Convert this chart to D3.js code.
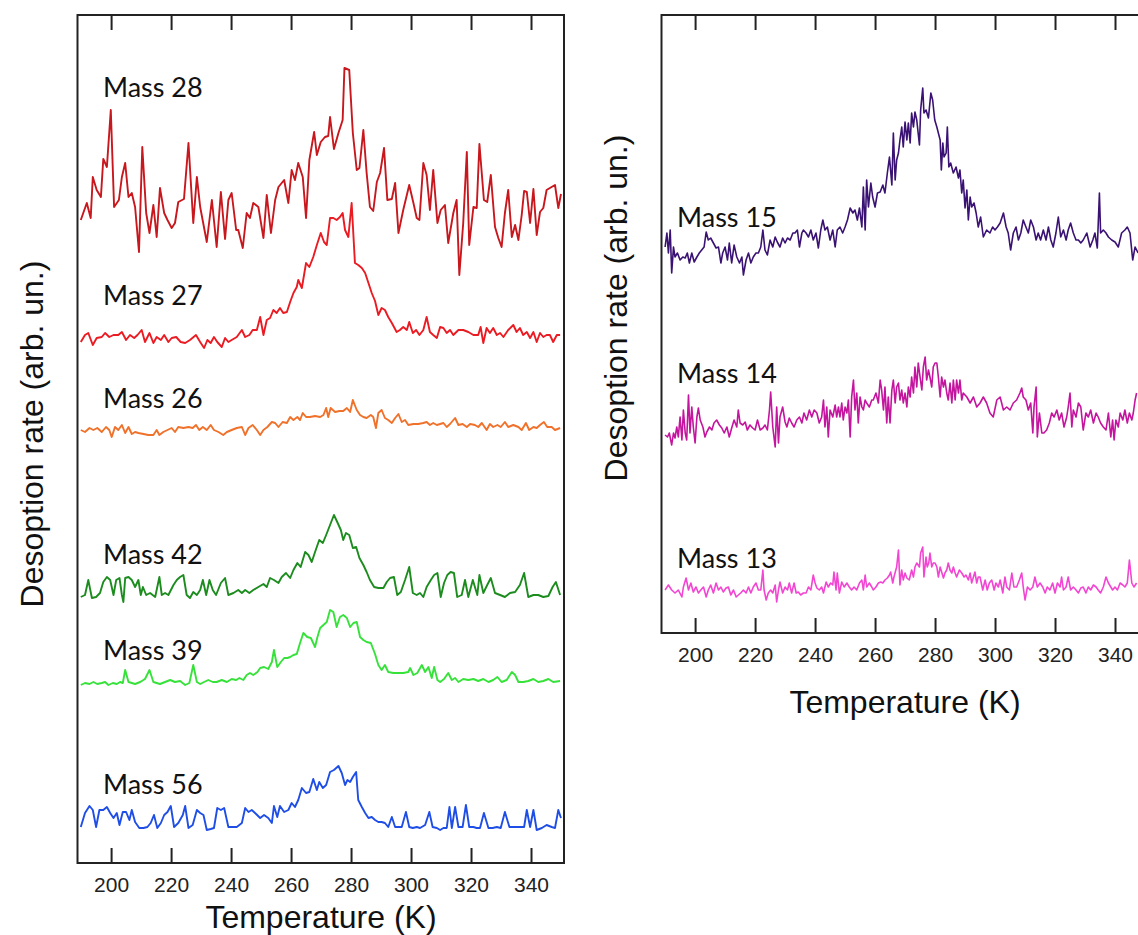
<!DOCTYPE html>
<html><head><meta charset="utf-8">
<script src="https://cdn.jsdelivr.net/npm/d3@7"></script>
<style>body{margin:0;background:#fff}svg{display:block}</style></head>
<body><svg id="chart" width="1138" height="935"></svg>
<script>
// ---------- data (temperature in K, desorption rate in arb. units incl. vertical offset) ----------
const tempTicks = [200, 220, 240, 260, 280, 300, 320, 340];
const tempDomain = [188.8, 351];
const leftRateDomain = [0, 84.8];
const rightRateDomain = [0, 61.8];

const leftNames = ["Mass 28", "Mass 27", "Mass 26", "Mass 42", "Mass 39", "Mass 56"];
const rightNames = ["Mass 15", "Mass 14", "Mass 13"];

const mass28 = [[189.9,64.3],[191.9,66.0],[193.2,64.5],[193.9,68.6],[195.2,67.3],[196.6,66.6],[197.4,70.4],[198.6,69.6],[199.9,75.3],[201.0,65.6],[202.6,66.3],[203.6,68.6],[204.7,70.0],[205.8,66.6],[206.9,67.0],[208.0,65.6],[209.3,61.1],[210.4,71.6],[211.7,65.0],[212.8,63.0],[214.1,65.8],[215.2,62.6],[216.3,67.5],[217.7,65.0],[218.8,64.3],[220.2,63.5],[221.3,64.0],[222.4,66.1],[224.3,66.4],[225.8,72.0],[227.4,64.0],[228.6,68.6],[229.7,65.6],[231.9,62.1],[233.6,66.3],[235.2,61.6],[236.6,67.1],[238.0,62.4],[239.1,66.3],[240.2,67.0],[241.7,63.3],[242.4,63.3],[243.9,61.5],[245.2,65.0],[246.3,64.5],[247.4,66.0],[249.1,65.6],[250.8,62.5],[251.9,66.8],[253.3,63.0],[254.7,66.3],[255.8,67.6],[257.7,68.3],[259.1,66.0],[260.2,69.3],[261.3,68.3],[262.4,70.0],[263.9,68.6],[265.0,64.5],[266.1,70.3],[267.7,73.1],[268.6,70.8],[269.9,72.1],[271.3,72.6],[272.4,72.7],[273.0,74.6],[274.3,71.4],[275.8,73.0],[277.2,74.3],[277.8,79.5],[279.4,79.3],[280.6,73.0],[281.9,69.3],[282.8,69.5],[284.1,73.3],[285.2,69.0],[286.3,65.6],[287.4,65.2],[288.6,68.1],[289.7,69.0],[291.0,71.5],[292.1,66.3],[293.6,66.4],[294.7,68.0],[295.8,63.0],[297.4,65.3],[299.4,67.8],[300.8,66.0],[301.9,64.5],[302.8,64.3],[304.1,70.0],[305.2,68.8],[306.3,65.3],[307.4,69.3],[308.8,64.0],[309.9,65.3],[311.3,65.8],[312.4,62.0],[314.1,65.0],[315.2,66.3],[316.1,58.8],[317.4,64.0],[318.6,71.1],[319.4,61.8],[320.8,65.6],[321.9,65.5],[322.8,71.9],[324.3,66.3],[325.4,66.1],[326.6,68.8],[328.0,63.6],[329.1,62.5],[330.2,61.6],[331.3,65.0],[332.4,67.3],[333.6,62.6],[334.7,63.8],[335.8,62.3],[336.9,64.8],[337.7,67.2],[338.6,67.1],[339.7,64.0],[340.8,67.4],[341.9,62.8],[343.0,65.1],[344.1,65.5],[345.2,67.3],[346.3,67.5],[348.0,67.8],[349.1,65.5],[350.0,66.9]];

const mass27 = [[189.9,52.1],[191.3,52.8],[192.4,53.0],[193.9,51.8],[195.2,52.5],[196.9,52.6],[198.0,53.0],[199.4,52.6],[200.8,52.8],[202.4,52.8],[203.6,53.1],[205.0,52.3],[206.3,52.8],[207.7,52.5],[208.8,52.8],[210.2,53.3],[211.3,52.1],[212.8,53.0],[214.1,52.0],[215.2,52.6],[216.6,52.3],[217.7,52.8],[219.1,52.1],[220.2,52.5],[221.7,52.6],[223.2,52.1],[224.7,52.0],[226.3,52.3],[228.3,52.8],[229.7,52.1],[231.0,51.5],[232.1,52.3],[233.2,52.0],[234.3,52.6],[235.4,52.1],[236.9,51.6],[238.0,52.5],[239.1,52.1],[240.2,52.3],[241.9,52.6],[243.6,53.3],[244.7,52.6],[246.1,52.8],[247.2,53.3],[248.6,53.3],[249.7,54.6],[250.8,52.8],[251.9,54.3],[253.0,54.5],[254.1,55.3],[255.2,55.0],[256.3,55.5],[257.4,55.0],[258.6,55.1],[259.7,56.1],[260.8,57.0],[261.9,57.6],[262.4,58.3],[263.6,57.5],[265.0,60.0],[266.1,59.6],[267.4,60.6],[268.6,61.8],[269.9,63.0],[271.0,62.1],[271.9,61.8],[273.0,64.5],[274.1,64.5],[275.2,64.3],[276.3,64.6],[277.2,65.0],[278.0,63.3],[279.1,62.6],[280.2,66.0],[281.3,60.0],[282.4,59.8],[283.6,59.5],[284.7,59.0],[285.8,58.0],[286.9,57.0],[288.0,56.2],[289.1,54.8],[290.2,55.5],[291.3,55.3],[292.4,54.6],[293.6,54.0],[295.2,53.1],[296.3,53.3],[297.4,53.6],[298.6,53.3],[299.4,54.1],[300.6,53.0],[301.7,53.3],[302.8,52.8],[304.1,53.3],[305.2,54.6],[306.3,53.1],[307.4,52.8],[308.6,52.5],[309.7,53.6],[310.8,53.5],[311.9,53.0],[313.0,53.3],[314.1,52.8],[315.8,53.3],[317.4,53.3],[319.1,53.1],[320.8,52.8],[322.4,52.8],[323.2,53.6],[324.1,52.0],[325.2,53.5],[326.3,53.0],[327.4,53.5],[328.6,52.8],[329.7,53.0],[330.8,52.6],[332.4,53.3],[334.1,53.8],[335.2,53.1],[336.3,53.5],[337.4,52.8],[338.6,53.1],[339.7,52.5],[340.8,53.1],[341.9,52.1],[343.0,53.0],[344.1,52.6],[345.2,52.8],[346.3,52.8],[347.4,52.1],[348.6,52.8],[349.7,52.8]];

const mass26 = [[189.9,43.3],[191.3,43.1],[192.8,43.5],[194.1,43.3],[195.4,43.5],[196.9,43.1],[198.3,43.6],[199.4,43.3],[200.2,42.6],[201.3,43.6],[202.4,43.3],[203.6,43.8],[204.7,43.0],[205.8,43.6],[206.9,42.9],[208.0,43.1],[209.1,43.0],[210.8,42.9],[212.4,42.8],[214.1,42.8],[215.2,43.3],[216.1,42.8],[217.4,43.1],[218.8,43.3],[220.2,43.5],[221.3,43.1],[222.4,43.6],[224.1,43.5],[225.8,43.6],[227.2,43.5],[228.3,43.8],[229.4,43.3],[230.6,43.6],[231.9,43.3],[233.2,43.8],[234.3,43.3],[235.8,43.1],[237.4,42.8],[238.6,43.1],[240.2,43.3],[241.9,43.5],[243.6,43.6],[244.7,42.8],[245.8,43.5],[247.2,43.8],[248.6,43.3],[249.7,42.8],[250.8,43.3],[252.1,43.6],[253.6,44.1],[254.7,44.0],[255.8,43.6],[257.2,44.1],[258.6,44.0],[259.7,44.6],[260.8,44.3],[262.1,44.6],[263.0,44.3],[263.9,45.0],[265.0,44.6],[266.3,44.6],[268.0,44.7],[269.7,44.6],[270.8,44.8],[271.7,45.5],[272.4,44.6],[273.2,45.5],[274.7,45.1],[276.1,45.2],[277.4,45.2],[278.6,45.5],[279.7,45.1],[280.6,46.3],[281.9,45.3],[283.0,44.8],[284.1,44.6],[285.2,44.5],[286.6,44.8],[287.4,44.6],[288.3,43.5],[289.1,45.0],[290.2,45.3],[291.3,44.5],[292.4,44.3],[293.6,44.0],[294.7,44.5],[295.8,44.9],[296.9,44.1],[298.0,44.3],[299.1,43.8],[300.8,43.9],[302.4,43.9],[304.1,44.0],[305.2,44.1],[306.3,43.8],[307.4,44.0],[308.6,43.8],[309.7,43.9],[310.8,44.0],[311.9,43.6],[313.0,43.9],[314.7,44.5],[315.8,43.8],[317.2,43.9],[318.6,43.6],[319.7,43.9],[321.3,43.8],[322.4,43.6],[323.6,44.0],[325.2,43.3],[326.3,43.9],[327.4,43.6],[328.8,43.8],[329.9,43.6],[331.3,44.1],[332.4,43.6],[334.1,43.8],[335.8,43.6],[336.9,43.3],[338.3,44.0],[339.4,43.3],[340.8,43.6],[341.9,43.5],[343.0,43.8],[344.3,44.1],[345.4,43.6],[346.9,43.6],[348.0,43.3],[349.7,43.5]];

const mass42 = [[189.9,26.6],[191.3,26.8],[192.4,28.3],[193.6,26.5],[195.0,26.6],[196.3,27.0],[197.4,28.1],[198.6,28.6],[199.7,28.3],[200.8,26.8],[201.7,28.3],[202.8,28.5],[203.6,26.8],[204.1,26.1],[204.7,28.5],[205.8,28.6],[206.9,28.3],[208.0,27.6],[209.1,28.3],[209.9,26.8],[210.6,27.6],[211.7,26.8],[213.0,27.0],[214.7,26.6],[216.1,28.6],[216.9,26.8],[218.0,27.0],[219.1,26.8],[220.8,27.8],[221.9,28.3],[223.0,28.6],[224.1,28.8],[225.2,26.8],[226.3,26.5],[227.4,27.1],[228.6,26.8],[229.7,27.3],[230.6,28.3],[231.7,26.8],[232.8,28.3],[233.9,27.3],[235.0,26.8],[236.6,28.0],[238.0,28.5],[239.1,26.8],[240.8,27.0],[242.4,27.3],[243.6,27.0],[244.7,27.3],[246.1,27.0],[247.4,27.3],[249.1,27.6],[250.8,27.9],[251.9,27.6],[253.0,28.5],[254.3,28.3],[255.8,28.0],[256.9,28.6],[258.3,29.0],[259.7,28.5],[260.8,29.3],[262.1,30.0],[263.2,29.6],[264.7,31.1],[265.8,30.8],[266.9,30.1],[268.0,31.1],[269.4,32.3],[270.6,32.0],[271.7,32.8],[273.0,33.8],[274.3,34.8],[275.4,34.1],[276.6,33.3],[277.4,32.3],[278.3,33.0],[279.4,32.8],[280.6,31.5],[281.7,31.6],[282.8,30.5],[284.1,29.8],[285.2,29.1],[286.3,28.3],[287.7,27.6],[289.1,27.5],[290.8,27.5],[291.9,28.1],[293.0,28.5],[294.3,28.6],[295.4,26.8],[296.6,27.1],[298.0,28.3],[299.4,29.6],[300.6,27.0],[301.9,26.8],[303.0,27.0],[304.1,26.6],[305.2,27.6],[306.6,28.3],[307.7,28.8],[308.8,29.0],[309.9,26.6],[311.0,28.0],[312.1,28.8],[313.2,29.1],[314.3,29.0],[315.4,26.6],[316.9,26.8],[318.0,28.3],[319.1,26.6],[320.6,28.3],[322.1,26.8],[322.8,28.8],[324.1,27.0],[325.4,27.8],[326.6,28.5],[328.0,27.0],[329.7,26.8],[331.3,26.6],[333.0,27.0],[334.7,27.1],[336.3,27.8],[337.7,29.0],[339.1,26.6],[340.8,26.8],[342.4,26.8],[344.1,26.6],[345.8,26.7],[347.2,27.6],[348.3,28.1],[349.7,26.8]];

const mass39 = [[189.9,17.8],[191.3,18.0],[192.8,17.9],[194.1,18.1],[195.4,17.9],[196.9,18.0],[198.0,18.1],[199.1,17.8],[200.6,18.0],[201.9,17.9],[203.0,18.1],[203.9,18.0],[204.7,19.3],[205.8,18.1],[206.9,18.0],[208.0,17.9],[209.7,18.1],[211.3,18.4],[212.8,19.3],[214.1,18.1],[215.2,18.0],[216.3,17.9],[218.0,18.1],[219.7,18.3],[221.3,18.1],[223.0,18.2],[224.7,17.8],[226.1,18.0],[227.4,19.8],[228.6,18.1],[229.7,17.9],[231.0,18.1],[232.4,18.3],[233.9,18.1],[235.2,18.1],[236.9,18.3],[238.6,18.1],[240.2,18.4],[241.7,18.3],[242.8,18.5],[244.1,18.3],[245.2,18.8],[246.3,19.0],[247.4,18.8],[248.8,19.1],[249.7,19.5],[251.0,19.6],[252.4,19.4],[253.6,20.1],[254.3,21.3],[255.4,19.6],[256.6,20.1],[257.7,20.5],[258.8,20.5],[259.7,20.6],[260.8,20.8],[261.9,20.9],[263.0,22.0],[264.1,23.0],[265.4,22.6],[266.6,22.5],[268.0,21.6],[268.8,22.6],[269.7,23.5],[270.8,23.8],[271.9,24.1],[273.0,25.3],[274.1,25.1],[275.2,23.6],[276.3,24.6],[277.4,24.8],[278.6,24.5],[279.7,23.6],[280.8,24.0],[281.9,24.1],[283.0,22.6],[284.1,22.3],[285.2,22.1],[286.6,22.0],[288.0,20.9],[289.1,19.8],[290.2,19.3],[291.3,19.8],[292.4,19.1],[294.1,19.0],[295.8,19.0],[297.4,19.0],[299.1,19.1],[299.7,19.5],[300.8,18.8],[302.1,19.0],[303.6,19.8],[304.7,19.1],[305.8,19.6],[306.9,18.5],[307.7,19.6],[308.8,18.3],[309.7,18.1],[311.0,18.4],[312.4,19.0],[313.6,18.3],[314.7,18.5],[315.8,18.1],[317.4,18.4],[319.1,18.3],[320.8,18.4],[322.4,18.2],[324.1,18.4],[325.8,18.1],[327.4,18.3],[328.8,18.6],[330.2,18.1],[331.9,18.3],[333.6,19.1],[334.7,18.8],[335.8,18.1],[337.4,18.1],[339.1,18.2],[340.8,18.4],[342.4,18.1],[344.1,18.2],[345.8,18.4],[347.4,18.1],[349.7,18.2]];

const mass56 = [[189.9,3.6],[191.3,5.0],[192.8,5.7],[193.9,5.3],[195.0,3.6],[196.1,5.3],[197.4,5.3],[198.6,5.6],[199.7,5.0],[200.8,4.5],[201.9,5.0],[202.8,3.8],[203.9,5.1],[205.0,5.1],[206.1,4.3],[206.9,5.3],[208.0,4.1],[209.4,3.5],[210.8,3.5],[212.1,3.6],[213.2,4.0],[214.3,4.8],[215.4,3.5],[216.6,4.0],[217.7,4.8],[218.8,5.1],[219.9,5.7],[221.0,3.6],[222.4,4.0],[223.9,4.8],[224.7,5.7],[225.8,3.5],[227.2,3.8],[228.6,5.3],[229.7,5.0],[230.8,4.8],[231.9,3.3],[233.2,3.4],[234.3,3.5],[235.4,5.5],[236.6,5.3],[237.7,5.5],[239.1,3.6],[240.6,3.6],[241.9,3.6],[243.6,4.0],[244.7,5.5],[245.8,5.1],[246.9,5.3],[248.0,5.0],[249.7,4.5],[251.0,4.8],[252.4,4.5],[253.6,4.0],[254.3,5.7],[255.4,4.6],[256.3,5.7],[257.7,5.1],[259.1,5.3],[260.2,6.0],[261.3,5.6],[262.4,6.3],[263.6,7.5],[265.0,7.0],[266.1,7.1],[267.4,8.4],[268.6,7.3],[269.4,8.1],[270.6,7.5],[271.7,7.8],[273.0,9.1],[274.3,9.3],[275.8,9.7],[276.9,9.0],[278.0,7.8],[278.8,8.3],[279.7,8.1],[280.6,8.6],[281.7,9.1],[282.4,6.3],[283.6,5.6],[284.7,5.0],[285.8,4.5],[286.9,4.6],[288.0,4.3],[289.1,4.1],[290.2,4.1],[291.3,4.0],[292.4,3.6],[293.6,4.6],[294.7,3.6],[295.8,3.6],[296.9,3.6],[298.3,5.1],[299.4,3.6],[300.6,3.5],[301.9,3.6],[303.0,3.5],[304.7,3.8],[306.1,5.1],[307.2,3.6],[308.6,3.5],[309.7,3.3],[310.8,3.5],[311.9,3.5],[312.8,5.6],[313.6,3.5],[314.7,5.6],[315.8,3.6],[317.2,3.6],[318.3,5.8],[319.4,3.6],[320.8,3.6],[321.9,3.5],[323.0,3.5],[324.3,5.0],[325.8,3.5],[327.2,3.5],[328.6,3.6],[329.9,3.5],[331.3,5.1],[332.8,3.6],[334.7,3.6],[336.3,3.6],[337.7,3.6],[338.6,5.3],[339.7,3.6],[340.8,5.3],[341.9,3.3],[343.6,3.5],[345.2,3.8],[346.9,3.6],[348.0,3.5],[349.1,5.3],[350.0,4.5]];

const mass15 = [[190.0,38.6],[190.6,40.0],[191.1,38.0],[191.7,40.3],[192.2,36.0],[192.8,38.6],[193.3,37.6],[194.1,38.0],[195.0,37.3],[195.9,37.6],[196.7,37.5],[197.4,38.0],[198.1,37.0],[198.9,38.0],[199.7,37.1],[200.6,37.6],[201.4,38.0],[202.2,38.3],[203.0,38.6],[203.7,40.1],[204.4,39.3],[205.2,39.5],[206.1,39.0],[207.0,38.5],[207.8,38.6],[208.6,37.0],[209.2,38.0],[210.0,38.6],[210.8,37.3],[211.4,39.0],[212.2,37.0],[213.0,38.8],[213.9,37.6],[214.8,37.0],[215.6,37.6],[216.1,35.8],[217.0,37.3],[217.8,38.0],[218.6,37.0],[219.4,37.6],[220.3,38.0],[221.1,38.0],[221.9,38.6],[222.6,40.3],[223.3,38.3],[224.1,37.8],[225.0,39.3],[225.9,38.6],[226.7,39.6],[227.4,39.1],[228.3,38.6],[229.2,39.5],[230.0,39.0],[230.8,39.5],[231.7,39.3],[232.6,40.0],[233.3,40.0],[234.1,40.3],[234.8,38.6],[235.6,40.0],[236.1,40.3],[237.0,40.0],[237.8,39.6],[238.6,40.3],[239.4,39.3],[240.3,40.0],[241.1,38.5],[241.9,40.3],[242.6,41.3],[243.3,40.3],[244.1,40.6],[245.0,39.3],[245.9,40.3],[246.7,38.6],[247.4,40.3],[248.3,40.6],[249.2,40.0],[250.0,40.6],[250.8,41.3],[251.7,42.5],[252.6,42.0],[253.3,42.3],[254.1,41.3],[254.8,42.5],[255.6,40.6],[256.1,44.6],[256.7,40.3],[257.2,45.3],[257.8,42.6],[258.6,45.0],[259.2,43.6],[260.0,42.6],[260.8,44.0],[261.7,44.1],[262.6,44.8],[263.3,44.0],[264.1,46.0],[264.8,47.6],[265.6,44.8],[266.1,50.0],[266.7,45.3],[267.2,47.3],[267.8,48.0],[268.3,49.3],[268.9,50.6],[269.4,48.6],[270.0,51.1],[270.6,49.3],[271.1,51.0],[271.7,49.0],[272.2,52.0],[272.8,50.6],[273.3,52.1],[273.9,51.3],[274.8,48.8],[275.2,52.3],[275.9,54.5],[276.3,52.0],[277.0,52.3],[277.8,51.5],[278.6,54.0],[279.2,53.3],[279.9,51.3],[280.6,50.6],[281.1,50.0],[281.7,49.3],[282.1,46.3],[282.6,49.0],[283.0,47.6],[283.7,48.0],[284.1,50.6],[284.6,46.6],[285.2,47.0],[286.1,46.0],[287.0,46.6],[287.8,45.5],[288.3,46.3],[288.9,44.0],[289.4,45.3],[290.0,42.5],[290.6,44.3],[291.1,41.3],[291.7,43.6],[292.2,42.6],[293.0,43.0],[293.7,42.0],[294.4,40.6],[295.2,41.6],[296.1,39.6],[297.2,40.3],[298.3,40.0],[299.2,40.6],[300.0,40.3],[300.8,40.6],[301.7,41.0],[302.8,42.0],[303.7,40.6],[304.4,40.0],[305.2,38.3],[306.1,40.0],[307.0,40.6],[307.8,39.3],[308.6,40.0],[309.4,41.3],[310.3,40.6],[311.1,40.0],[311.9,41.3],[312.8,40.6],[313.7,39.3],[314.4,40.0],[315.2,39.3],[316.1,40.3],[317.0,39.3],[317.8,40.6],[318.6,39.3],[319.4,38.6],[320.3,40.0],[321.1,41.6],[321.9,39.6],[322.8,40.3],[323.7,39.3],[324.4,40.3],[325.2,41.0],[326.1,40.0],[327.0,39.3],[327.8,39.3],[328.6,39.0],[329.4,39.3],[330.6,40.0],[331.7,38.6],[332.6,39.3],[333.3,40.0],[334.1,38.5],[334.8,44.0],[335.2,40.0],[336.1,40.3],[337.0,40.0],[337.8,39.6],[338.9,39.3],[340.0,39.1],[341.1,38.6],[342.2,40.0],[343.3,40.3],[344.1,40.6],[345.0,40.0],[345.9,37.3],[346.7,38.6],[347.7,38.0]];

const mass14 = [[190.0,19.8],[190.8,19.6],[191.4,20.0],[192.2,18.8],[192.8,20.0],[193.3,19.5],[193.9,20.6],[194.4,19.6],[195.0,21.6],[195.6,19.3],[196.1,22.3],[196.7,20.0],[197.2,19.3],[197.8,23.8],[198.3,20.0],[198.9,22.6],[199.4,20.6],[200.0,19.0],[200.6,21.6],[201.1,22.5],[201.7,21.3],[202.6,20.6],[203.3,19.6],[203.9,20.1],[204.8,20.6],[205.6,20.3],[206.3,21.0],[207.2,21.3],[208.1,20.8],[208.9,20.5],[209.7,20.0],[210.6,20.6],[211.4,19.6],[212.2,20.5],[213.0,21.3],[213.9,20.6],[214.4,22.3],[215.0,21.0],[215.9,20.8],[216.7,21.1],[217.4,20.3],[218.3,20.8],[219.2,20.5],[220.0,20.3],[220.8,21.3],[221.7,20.3],[222.6,20.5],[223.3,20.8],[224.1,20.3],[224.8,22.3],[225.2,24.1],[225.9,20.6],[226.7,18.6],[227.2,22.6],[227.8,19.0],[228.3,21.6],[229.2,22.6],[230.0,21.1],[230.6,20.6],[231.4,21.5],[232.2,21.0],[233.0,20.6],[233.9,21.3],[234.8,21.6],[235.6,21.0],[236.3,22.0],[237.2,21.3],[238.1,22.3],[238.9,21.6],[239.7,22.3],[240.6,22.0],[241.4,21.0],[242.2,21.6],[242.8,23.3],[243.3,20.6],[243.9,22.6],[244.4,19.6],[245.0,22.3],[245.9,21.6],[246.7,22.8],[247.2,21.6],[247.8,22.6],[248.3,21.6],[248.9,23.0],[249.4,21.3],[250.0,22.6],[250.6,22.0],[251.1,23.3],[251.7,19.6],[252.2,23.6],[252.8,25.3],[253.3,22.3],[253.9,24.0],[254.4,21.0],[255.0,23.6],[255.6,22.6],[256.1,22.3],[256.7,23.3],[257.2,23.0],[258.1,22.6],[258.9,23.3],[259.4,23.3],[260.3,24.0],[261.1,23.0],[261.7,25.3],[262.2,24.3],[262.8,22.3],[263.3,24.6],[263.9,21.0],[264.4,23.6],[265.0,21.0],[265.6,24.3],[266.1,25.3],[266.7,23.0],[267.2,24.6],[267.8,25.0],[268.3,23.3],[268.9,24.3],[269.4,23.0],[270.0,24.0],[270.6,22.6],[271.1,24.6],[271.7,23.6],[272.2,25.6],[272.8,24.0],[273.3,26.6],[273.9,24.6],[274.4,27.0],[275.0,25.6],[275.6,24.3],[276.1,26.6],[276.7,27.6],[277.2,25.3],[277.8,26.3],[278.3,25.6],[278.9,24.6],[279.4,26.6],[280.0,27.0],[280.6,27.0],[281.1,25.6],[281.7,23.6],[282.2,25.6],[282.8,24.6],[283.3,25.3],[283.9,24.0],[284.4,23.3],[285.0,25.0],[285.6,23.0],[286.1,25.3],[286.7,23.3],[287.2,25.3],[287.8,24.0],[288.3,25.3],[288.9,23.3],[289.4,24.0],[290.6,23.6],[291.7,23.0],[292.8,23.6],[293.9,22.6],[295.0,23.0],[296.1,23.6],[297.2,23.0],[298.3,22.0],[299.4,21.6],[300.6,23.3],[301.7,23.6],[302.8,22.3],[303.9,22.6],[305.0,22.3],[306.1,23.0],[307.2,23.3],[308.3,24.0],[308.9,24.5],[309.4,23.6],[310.3,23.3],[311.1,22.3],[311.9,23.0],[312.6,20.0],[313.0,22.6],[313.7,24.6],[314.1,19.6],[314.8,22.0],[315.6,20.0],[316.3,20.0],[317.2,20.3],[318.1,21.0],[318.9,22.0],[319.7,21.6],[320.6,22.3],[321.4,21.3],[322.2,22.0],[323.0,20.6],[323.9,21.6],[324.4,22.6],[325.0,24.0],[325.6,20.6],[326.1,22.3],[327.0,21.6],[327.8,23.0],[328.6,22.6],[329.4,20.3],[330.3,22.0],[331.1,21.6],[331.9,22.3],[332.8,21.0],[333.7,22.0],[334.4,21.6],[335.2,21.0],[336.1,20.6],[337.0,20.3],[337.8,22.0],[338.6,19.6],[339.2,21.3],[339.7,19.3],[340.3,21.3],[341.1,20.6],[341.7,22.0],[342.6,21.3],[343.3,22.3],[344.1,21.0],[344.8,22.0],[345.6,21.3],[346.1,22.0],[346.7,23.3],[347.2,24.0]];

const mass13 = [[190.0,4.3],[191.1,4.8],[192.2,4.3],[193.3,4.0],[194.4,4.3],[195.6,3.6],[196.1,4.6],[197.0,5.5],[197.8,4.3],[198.6,5.0],[199.4,4.1],[200.3,4.6],[201.1,4.0],[201.9,4.3],[202.8,4.6],[203.7,3.6],[204.4,4.3],[205.2,4.8],[206.1,4.0],[207.0,5.0],[207.8,4.3],[208.6,4.6],[209.4,4.1],[210.3,4.5],[211.1,4.6],[211.9,3.8],[212.8,4.3],[213.7,3.6],[214.4,3.8],[215.2,4.0],[216.1,4.3],[217.0,4.0],[217.8,4.6],[218.6,4.0],[219.4,4.6],[220.3,5.0],[221.1,4.3],[221.9,4.3],[222.6,6.3],[223.0,4.3],[223.7,3.3],[224.4,4.0],[225.2,4.3],[225.9,4.0],[226.7,4.8],[227.2,3.1],[227.8,4.3],[228.3,5.1],[229.2,4.0],[230.0,4.6],[230.8,4.3],[231.4,5.0],[232.2,4.0],[233.0,5.0],[233.7,4.0],[234.4,4.1],[235.2,3.8],[236.1,4.0],[237.0,4.0],[237.8,4.6],[238.6,4.3],[239.4,5.8],[240.0,5.0],[240.6,4.5],[241.4,4.3],[242.2,4.6],[242.8,4.0],[243.7,5.1],[244.4,4.6],[245.2,5.0],[245.9,4.8],[246.3,6.1],[247.0,4.3],[247.4,6.0],[248.1,4.0],[248.9,5.1],[249.7,4.6],[250.6,5.0],[251.4,4.6],[252.2,4.3],[253.0,4.6],[253.9,4.3],[254.8,5.0],[255.6,5.3],[256.1,4.3],[256.7,5.8],[257.2,4.6],[258.1,5.0],[258.9,4.6],[259.4,4.3],[260.3,4.6],[261.1,5.0],[261.9,5.1],[262.6,5.0],[263.3,5.3],[264.1,5.5],[264.8,5.8],[265.2,6.1],[265.9,5.0],[266.3,5.6],[267.2,6.6],[267.8,8.3],[268.3,4.8],[268.9,6.3],[269.4,5.3],[270.0,6.0],[270.6,5.5],[271.4,5.3],[272.2,6.3],[272.8,5.6],[273.3,6.6],[273.9,7.0],[274.8,6.6],[275.2,8.0],[275.9,8.6],[276.3,5.6],[277.0,7.6],[277.4,6.6],[277.9,7.0],[278.3,8.0],[278.9,6.6],[279.4,7.0],[280.0,7.0],[280.6,6.6],[281.1,5.6],[281.7,6.6],[282.2,6.1],[282.8,5.5],[283.3,6.0],[283.9,6.3],[284.4,7.0],[285.0,6.3],[285.6,6.0],[286.1,6.6],[286.7,6.0],[287.2,5.6],[288.1,6.3],[288.9,6.0],[289.7,5.6],[290.3,5.8],[291.1,5.3],[291.7,6.0],[292.2,5.0],[292.8,5.6],[293.3,6.1],[293.9,5.0],[294.4,5.6],[295.0,5.6],[295.9,4.3],[296.7,5.3],[297.4,4.3],[298.1,5.0],[298.9,5.3],[299.7,4.3],[300.3,5.0],[301.1,4.6],[301.7,5.3],[302.6,4.0],[303.3,5.6],[303.9,4.6],[304.8,4.3],[305.6,6.0],[306.3,4.6],[307.2,4.6],[308.1,5.3],[308.9,6.0],[309.4,4.6],[310.0,3.3],[310.8,4.6],[311.7,4.3],[312.6,4.6],[313.3,5.6],[314.1,4.6],[315.0,5.0],[315.9,4.6],[316.7,4.0],[317.4,4.6],[318.3,4.3],[319.2,5.0],[320.0,4.0],[320.8,5.0],[321.7,4.6],[322.2,5.6],[322.8,4.3],[323.7,4.6],[324.4,5.6],[325.2,4.3],[326.1,4.6],[327.0,4.3],[327.8,4.0],[328.6,4.5],[329.4,4.6],[330.3,4.0],[331.1,4.6],[331.9,4.3],[332.8,4.8],[333.7,4.6],[334.4,4.3],[335.2,4.0],[336.1,4.6],[337.0,5.6],[337.8,5.0],[338.6,4.6],[339.2,4.3],[340.0,4.6],[340.8,4.3],[341.7,5.0],[342.6,4.8],[343.3,4.6],[344.1,5.0],[344.8,7.3],[345.6,5.0],[346.3,4.6],[347.2,5.0]];

const leftSeries = [mass28, mass27, mass26, mass42, mass39, mass56];
const rightSeries = [mass15, mass14, mass13];

// ---------- styling / layout ----------
const leftColors = ["#c8171d", "#ea1b22", "#f0712a", "#1c8c1e", "#36e23a", "#1f4ee6"];
const rightColors = ["#3a1273", "#c4159f", "#f245d2"];
// label anchors in data coordinates [temperature, rate]
const leftLabelAt = [[197.3, 76.6], [197.3, 55.8], [197.3, 45.5], [197.3, 29.9], [197.3, 20.3], [197.3, 6.9]];
const rightLabelAt = [[194.0, 40.6], [194.0, 25.0], [194.0, 6.5]];

const svg = d3.select("#chart");
const axisFont = "'Liberation Sans', Arial, sans-serif";
const labelFont = "Lato, 'Open Sans', sans-serif";

function panel(cfg) {
  const x = d3.scaleLinear().domain(tempDomain).range([cfg.left, cfg.right]);
  const y = d3.scaleLinear().domain(cfg.yDomain).range([cfg.bottom, cfg.top]);
  const g = svg.append("g");

  const clipId = "clip" + cfg.id;
  svg.append("clipPath").attr("id", clipId).append("rect")
    .attr("x", cfg.left).attr("y", cfg.top)
    .attr("width", cfg.right - cfg.left).attr("height", cfg.bottom - cfg.top);

  const line = d3.line().x(d => x(d[0])).y(d => y(d[1]));
  g.append("g").attr("clip-path", `url(#${clipId})`)
    .selectAll("path").data(cfg.series).join("path")
    .attr("d", line)
    .attr("fill", "none")
    .attr("stroke", (d, i) => cfg.colors[i])
    .attr("stroke-width", cfg.lw)
    .attr("stroke-linejoin", "round");

  // bottom axis with inward ticks
  const bottom = g.append("g").attr("transform", `translate(0,${cfg.bottom})`)
    .call(d3.axisBottom(x).tickValues(tempTicks).tickSize(-15).tickPadding(0).tickFormat(d3.format("d")));
  bottom.select(".domain").remove();
  bottom.selectAll(".tick line").attr("stroke", "#222").attr("stroke-width", 2);
  bottom.selectAll(".tick text").attr("font-family", axisFont).attr("font-size", 21)
    .attr("fill", "#222").attr("dy", null).attr("y", 29);

  const topAx = g.append("g").attr("transform", `translate(0,${cfg.top})`)
    .call(d3.axisTop(x).tickValues(tempTicks).tickSize(-15).tickFormat(""));
  topAx.select(".domain").remove();
  topAx.selectAll(".tick line").attr("stroke", "#222").attr("stroke-width", 2);

  // frame
  g.append("rect").attr("x", cfg.left).attr("y", cfg.top)
    .attr("width", cfg.right - cfg.left).attr("height", cfg.bottom - cfg.top)
    .attr("fill", "none").attr("stroke", "#222").attr("stroke-width", 2);

  // series labels
  g.selectAll("text.lbl").data(cfg.names).join("text").attr("class", "lbl")
    .attr("x", (d, i) => x(cfg.labelAt[i][0]))
    .attr("y", (d, i) => y(cfg.labelAt[i][1]))
    .attr("font-family", labelFont).attr("font-size", 27).attr("fill", "#111")
    .text(d => d);

  // axis titles
  g.append("text").attr("x", cfg.titleX).attr("y", cfg.bottom + cfg.titleDy)
    .attr("text-anchor", "middle").attr("font-family", axisFont).attr("font-size", 32)
    .attr("fill", "#111").text("Temperature (K)");
  g.append("text").attr("transform", `translate(${cfg.yTitleX},${cfg.yTitleY}) rotate(-90)`)
    .attr("text-anchor", "middle").attr("font-family", axisFont).attr("font-size", 32)
    .attr("fill", "#111").text("Desoption rate (arb. un.)");
}

panel({id: "L", left: 77.5, right: 564, top: 15, bottom: 863, yDomain: leftRateDomain,
  series: leftSeries, colors: leftColors, names: leftNames, labelAt: leftLabelAt, lw: 1.9,
  titleX: 321, titleDy: 65, yTitleX: 43, yTitleY: 434});
panel({id: "R", left: 661.5, right: 1148, top: 15, bottom: 633, yDomain: rightRateDomain,
  series: rightSeries, colors: rightColors, names: rightNames, labelAt: rightLabelAt, lw: 1.6,
  titleX: 905, titleDy: 80, yTitleX: 627, yTitleY: 308});
</script>
</body></html>
